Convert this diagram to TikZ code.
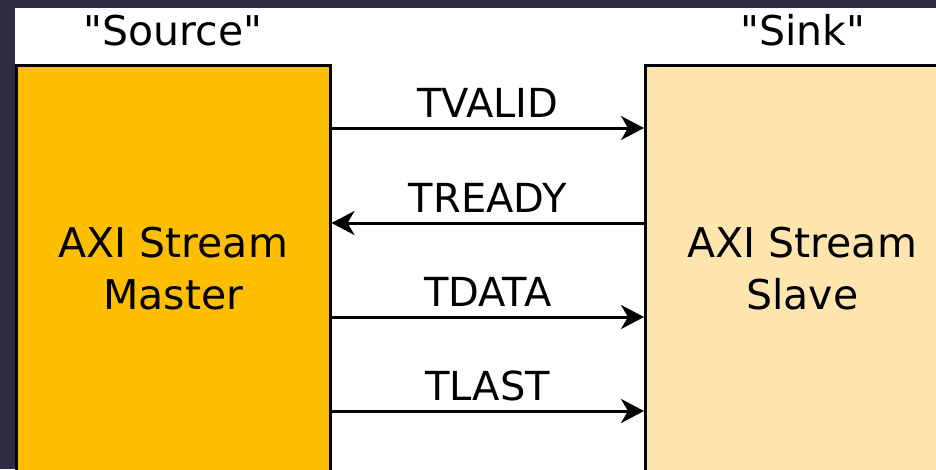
\documentclass[tikz,border=0pt]{standalone}
\usepackage{fontspec}
\setmainfont{DejaVu Sans}[Ligatures=TeXOff]
\usetikzlibrary{arrows.meta}
\definecolor{framedark}{RGB}{46,44,66}
\definecolor{mastercol}{RGB}{255,191,0}
\definecolor{slavecol}{RGB}{255,230,174}
\tikzstyle{block}=[shape=rectangle, draw, line width=3pt, minimum width=313.5pt, minimum height=406pt, align=center, font=\fontsize{41}{52}\selectfont, inner sep=0]
\tikzstyle{sig}=[line width=3pt, -{Stealth[length=23pt, width=24pt, inset=7pt]}]
\tikzstyle{siglabel}=[anchor=base, yshift=11pt, font=\fontsize{40}{48}\selectfont]
\tikzstyle{role}=[anchor=base, font=\fontsize{41}{48}\selectfont]

\begin{document}
\begin{tikzpicture}[x=1pt, y=-1pt]
\useasboundingbox (0,0) rectangle (936,469);
\fill[framedark] (0,0) rectangle (936,469);
\fill[white] (15,7.5) rectangle (936,469);
\begin{scope}
\clip (0,0) rectangle (936,469);
\node[block, fill=mastercol] (master) at (173.25,268.5) {AXI Stream\\Master};
\node[block, fill=slavecol] (slave) at (802.25,268.5) {AXI Stream\\Slave};
\end{scope}
\draw (173,45)node[role]{"Source"};
\draw (803,45)node[role]{"Sink"};
\coordinate (valid) at (0,128);
\coordinate (ready) at (0,223);
\coordinate (data) at (0,317);
\coordinate (last) at (0,411);
\draw[sig] (master.east |- valid)--(slave.west |- valid)node[midway, siglabel]{TVALID};
\draw[sig] (slave.west |- ready)--(master.east |- ready)node[midway, siglabel]{TREADY};
\draw[sig] (master.east |- data)--(slave.west |- data)node[midway, siglabel]{TDATA};
\draw[sig] (master.east |- last)--(slave.west |- last)node[midway, siglabel]{TLAST};
\end{tikzpicture}
\end{document}
